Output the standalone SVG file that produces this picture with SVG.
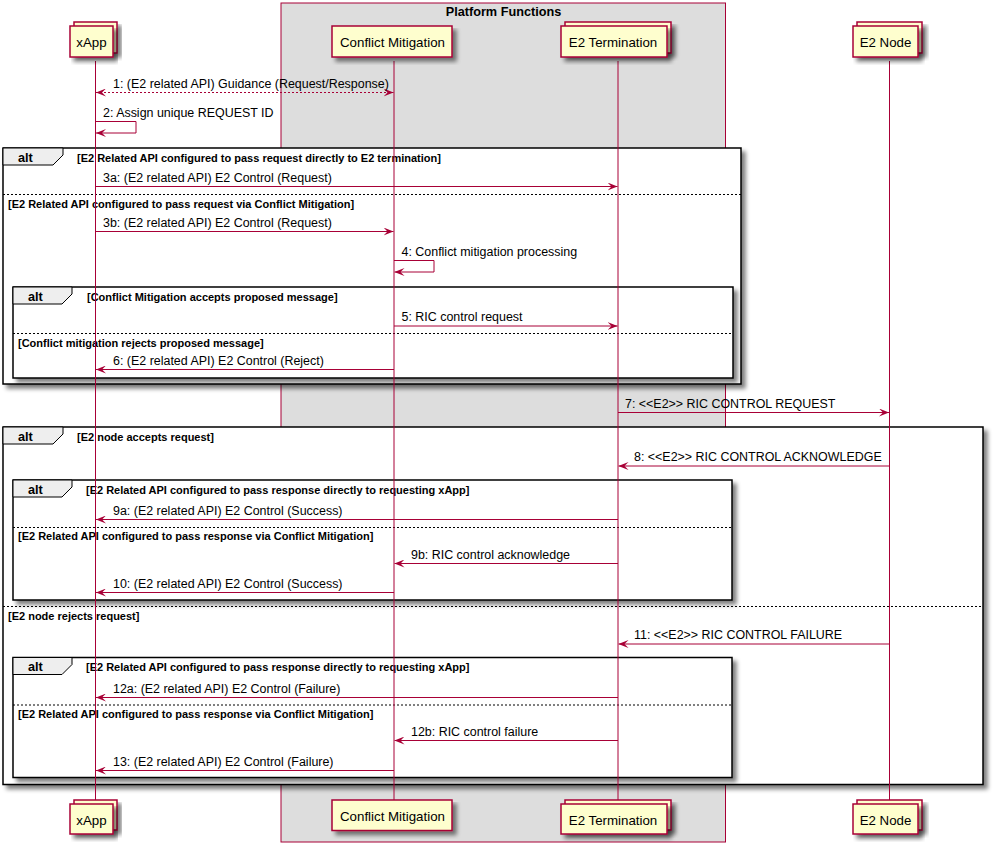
<svg xmlns="http://www.w3.org/2000/svg" width="995" height="846" viewBox="0 0 995 846">
<defs>
<filter id="sh" x="-5%" y="-5%" width="115%" height="130%">
<feGaussianBlur in="SourceAlpha" stdDeviation="2"/>
<feOffset dx="4" dy="4" result="b"/>
<feComponentTransfer><feFuncA type="linear" slope="0.5"/></feComponentTransfer>
<feMerge><feMergeNode/><feMergeNode in="SourceGraphic"/></feMerge>
</filter>
<marker id="ah" viewBox="0 0 10 8" refX="10" refY="4" markerWidth="10" markerHeight="8" markerUnits="userSpaceOnUse" orient="auto-start-reverse">
<polygon points="0,0 10,4 0,8 4,4" fill="#A80036"/>
</marker>
</defs>
<style>
text{font-family:"Liberation Sans",Arial,sans-serif;fill:#000}
.pt{font-size:13.3px}
.mt{font-size:12.45px}
.gt{font-size:11px;font-weight:bold}
.at{font-size:12.7px;font-weight:bold}
.part{fill:#FEFECE;stroke:#A80036;stroke-width:1.5;filter:url(#sh)}
.life{stroke:#A80036;stroke-width:1}
.msg{stroke:#A80036;stroke-width:1;fill:none;marker-end:url(#ah)}
.dot{stroke-dasharray:2,2;marker-start:url(#ah)}
.frame{fill:#FFFFFF;stroke:#000;stroke-width:1.5;filter:url(#sh)}
.tab{fill:#EEEEEE;stroke:#000;stroke-width:1}
.sep{stroke:#000;stroke-width:1;stroke-dasharray:2,2}
</style>
<rect x="0" y="0" width="995" height="846" fill="#FFFFFF"/>
<g id="box-platform-functions">
<rect x="281" y="3" width="444.5" height="839" fill="#DDDDDD" stroke="#A80036" stroke-width="1"/>
<text x="503.5" y="16" class="at" text-anchor="middle">Platform Functions</text>
</g>
<g id="frames">
<g id="alt1">
<rect class="frame" x="3" y="148" width="738" height="236"/>
<path class="tab" d="M3,148 L63,148 L63,155 L53,165 L3,165 Z"/>
<text x="18" y="161.5" class="at">alt</text>
<text x="77" y="161.5" class="gt">[E2 Related API configured to pass request directly to E2 termination]</text>
<line class="sep" x1="3" y1="194.5" x2="741" y2="194.5"/>
<text x="8" y="207.5" class="gt">[E2 Related API configured to pass request via Conflict Mitigation]</text>
</g>
<g id="alt1b">
<rect class="frame" x="13" y="287" width="720" height="91"/>
<path class="tab" d="M13,287 L72,287 L72,294 L62,304 L13,304 Z"/>
<text x="28" y="300.5" class="at">alt</text>
<text x="87" y="300.5" class="gt">[Conflict Mitigation accepts proposed message]</text>
<line class="sep" x1="13" y1="333.5" x2="733" y2="333.5"/>
<text x="18" y="346.5" class="gt">[Conflict mitigation rejects proposed message]</text>
</g>
<g id="alt2">
<rect class="frame" x="3" y="427" width="980" height="357.5"/>
<path class="tab" d="M3,427 L63,427 L63,434 L53,444 L3,444 Z"/>
<text x="18" y="440.5" class="at">alt</text>
<text x="77" y="440.5" class="gt">[E2 node accepts request]</text>
<line class="sep" x1="3" y1="606.5" x2="983" y2="606.5"/>
<text x="8" y="619.5" class="gt">[E2 node rejects request]</text>
</g>
<g id="alt2a">
<rect class="frame" x="13" y="480" width="719" height="120"/>
<path class="tab" d="M13,480 L72,480 L72,487 L62,497 L13,497 Z"/>
<text x="28" y="493.5" class="at">alt</text>
<text x="86" y="493.5" class="gt">[E2 Related API configured to pass response directly to requesting xApp]</text>
<line class="sep" x1="13" y1="527.5" x2="732" y2="527.5"/>
<text x="18" y="540" class="gt">[E2 Related API configured to pass response via Conflict Mitigation]</text>
</g>
<g id="alt2b">
<rect class="frame" x="13" y="657.5" width="719" height="120"/>
<path class="tab" d="M13,657.5 L72,657.5 L72,664.5 L62,674.5 L13,674.5 Z"/>
<text x="28" y="671" class="at">alt</text>
<text x="86" y="671" class="gt">[E2 Related API configured to pass response directly to requesting xApp]</text>
<line class="sep" x1="13" y1="705" x2="732" y2="705"/>
<text x="18" y="718" class="gt">[E2 Related API configured to pass response via Conflict Mitigation]</text>
</g>
</g>
<g id="lifelines">
<line class="life" x1="95.5" y1="61" x2="95.5" y2="800"/>
<line class="life" x1="394" y1="61" x2="394" y2="800"/>
<line class="life" x1="618" y1="61" x2="618" y2="800"/>
<line class="life" x1="889.5" y1="61" x2="889.5" y2="800"/>
</g>
<g id="xApp">
<rect class="part" x="74" y="22" width="43" height="31"/>
<rect class="part" x="70" y="26" width="43" height="31"/>
<text x="91.5" y="46.5" class="pt" text-anchor="middle">xApp</text>
<rect class="part" x="74" y="800" width="43" height="30"/>
<rect class="part" x="70" y="804" width="43" height="30"/>
<text x="91.5" y="824.5" class="pt" text-anchor="middle">xApp</text>
</g>
<g id="conflict-mitigation">
<rect class="part" x="332" y="26" width="120" height="31"/>
<text x="392.5" y="46.5" class="pt" text-anchor="middle">Conflict Mitigation</text>
<rect class="part" x="332" y="800" width="120" height="30.5"/>
<text x="392.5" y="820.5" class="pt" text-anchor="middle">Conflict Mitigation</text>
</g>
<g id="e2-termination">
<rect class="part" x="565" y="22" width="106" height="31"/>
<rect class="part" x="561" y="26" width="106" height="31"/>
<text x="613" y="46.5" class="pt" text-anchor="middle">E2 Termination</text>
<rect class="part" x="565" y="800" width="106" height="30"/>
<rect class="part" x="561" y="804" width="106" height="30"/>
<text x="613" y="824.5" class="pt" text-anchor="middle">E2 Termination</text>
</g>
<g id="e2-node">
<rect class="part" x="857" y="22" width="65" height="31"/>
<rect class="part" x="853" y="26" width="65" height="31"/>
<text x="885.5" y="46.5" class="pt" text-anchor="middle">E2 Node</text>
<rect class="part" x="857" y="800" width="65" height="30"/>
<rect class="part" x="853" y="804" width="65" height="30"/>
<text x="885.5" y="824.5" class="pt" text-anchor="middle">E2 Node</text>
</g>
<g id="connectors">
<line class="msg dot" x1="96" y1="92.5" x2="393.5" y2="92.5"/>
<text x="113" y="88" class="mt">1: (E2 related API) Guidance (Request/Response)</text>
<polyline class="msg" points="95.5,121.5 136,121.5 136,133 96,133"/>
<text x="103" y="117" class="mt">2: Assign unique REQUEST ID</text>
<line class="msg" x1="95.5" y1="186.5" x2="617.5" y2="186.5"/>
<text x="103" y="182" class="mt">3a: (E2 related API) E2 Control (Request)</text>
<line class="msg" x1="95.5" y1="231.5" x2="393.5" y2="231.5"/>
<text x="103" y="227" class="mt">3b: (E2 related API) E2 Control (Request)</text>
<polyline class="msg" points="394,260.5 434,260.5 434,272 394.5,272"/>
<text x="401.5" y="256" class="mt">4: Conflict mitigation processing</text>
<line class="msg" x1="394" y1="326" x2="617.5" y2="326"/>
<text x="401.5" y="321" class="mt">5: RIC control request</text>
<line class="msg" x1="394" y1="369.5" x2="96" y2="369.5"/>
<text x="113" y="365" class="mt">6: (E2 related API) E2 Control (Reject)</text>
<line class="msg" x1="618" y1="412.5" x2="889" y2="412.5"/>
<text x="625" y="408" class="mt">7: &lt;&lt;E2&gt;&gt; RIC CONTROL REQUEST</text>
<line class="msg" x1="889.5" y1="466" x2="618.5" y2="466"/>
<text x="634" y="461" class="mt">8: &lt;&lt;E2&gt;&gt; RIC CONTROL ACKNOWLEDGE</text>
<line class="msg" x1="618" y1="519.5" x2="96" y2="519.5"/>
<text x="113" y="514.5" class="mt">9a: (E2 related API) E2 Control (Success)</text>
<line class="msg" x1="618" y1="563.5" x2="394.5" y2="563.5"/>
<text x="411" y="558.5" class="mt">9b: RIC control acknowledge</text>
<line class="msg" x1="394" y1="592.5" x2="96" y2="592.5"/>
<text x="113" y="587.5" class="mt">10: (E2 related API) E2 Control (Success)</text>
<line class="msg" x1="889.5" y1="644" x2="618.5" y2="644"/>
<text x="634" y="639" class="mt">11: &lt;&lt;E2&gt;&gt; RIC CONTROL FAILURE</text>
<line class="msg" x1="618" y1="697.5" x2="96" y2="697.5"/>
<text x="113" y="692.5" class="mt">12a: (E2 related API) E2 Control (Failure)</text>
<line class="msg" x1="618" y1="740.5" x2="394.5" y2="740.5"/>
<text x="411" y="735.5" class="mt">12b: RIC control failure</text>
<line class="msg" x1="394" y1="770.5" x2="96" y2="770.5"/>
<text x="113" y="765.5" class="mt">13: (E2 related API) E2 Control (Failure)</text>
</g>
</svg>
